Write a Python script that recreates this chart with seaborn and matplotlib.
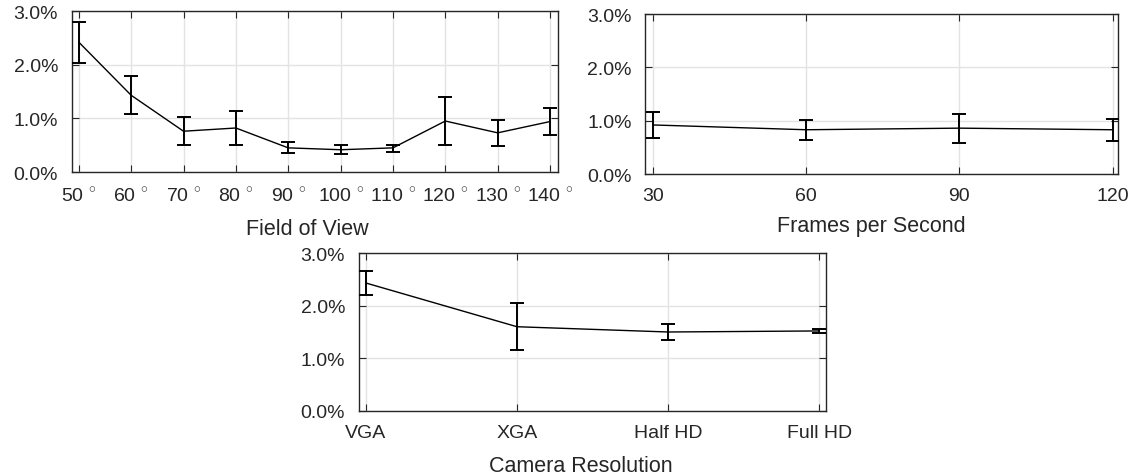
import numpy as np
import pandas as pd
import matplotlib
matplotlib.use("Agg")
import matplotlib.pyplot as plt
import seaborn as sns
from matplotlib.ticker import FuncFormatter

# ---------------- data ----------------
fov = [50, 60, 70, 80, 90, 100, 110, 120, 130, 140]
fov_mean = [2.42, 1.43, 0.76, 0.82, 0.45, 0.415, 0.45, 0.95, 0.73, 0.94]
fov_low = [2.03, 1.08, 0.50, 0.51, 0.35, 0.34, 0.37, 0.50, 0.48, 0.69]
fov_high = [2.79, 1.78, 1.02, 1.14, 0.55, 0.50, 0.51, 1.40, 0.97, 1.20]

fps = [30, 60, 90, 120]
fps_mean = [0.92, 0.83, 0.86, 0.83]
fps_low = [0.68, 0.63, 0.59, 0.62]
fps_high = [1.16, 1.02, 1.12, 1.04]

res = ["VGA", "XGA", "Half HD", "Full HD"]
res_mean = [2.43, 1.60, 1.50, 1.52]
res_low = [2.20, 1.15, 1.355, 1.475]
res_high = [2.65, 2.05, 1.645, 1.56]

yticks = [0.0, 1.0, 2.0, 3.0]

# ---------------- style ----------------
sns.set_theme(style="whitegrid")
plt.rcParams["font.family"] = ["Liberation Sans", "DejaVu Sans"]
plt.rcParams["mathtext.fontset"] = "custom"
plt.rcParams["mathtext.rm"] = "Liberation Sans"
TXT = "#262626"
GRID = "#e3e3e3"
TICK_FS = 14
LAB_FS = 15.5

fig = plt.figure(figsize=(11.3, 4.77), dpi=100)
ax1 = fig.add_axes([0.0637, 0.6373, 0.430, 0.3375])
ax2 = fig.add_axes([0.5712, 0.6331, 0.4181, 0.3354])
ax3 = fig.add_axes([0.3177, 0.1363, 0.4133, 0.3312])


def draw(ax, x, mean, low, high):
    df = pd.DataFrame({"x": x, "y": mean})
    sns.lineplot(data=df, x="x", y="y", ax=ax, color="black", lw=1.0)
    m = np.array(mean)
    yerr = [m - np.array(low), np.array(high) - m]
    ax.errorbar(x, mean, yerr=yerr, fmt="none", ecolor="black",
                elinewidth=1.4, capsize=4.8, capthick=1.4, zorder=3)
    ax.set_ylim(0, 3)
    ax.set_yticks(yticks)
    ax.yaxis.set_major_formatter(FuncFormatter(lambda v, p: f"{v:.1f}%"))
    ax.grid(True, color=GRID, lw=1.0)
    ax.set_facecolor("white")
    for s in ax.spines.values():
        s.set_color(TXT)
        s.set_linewidth(1.0)
        s.set_visible(True)
    ax.tick_params(direction="in", length=5, width=0.8, color=TXT,
                   top=True, right=True, bottom=True, left=True,
                   labelsize=TICK_FS, labelcolor=TXT)
    ax.tick_params(axis="y", pad=10)
    ax.set_ylabel("")


draw(ax1, fov, fov_mean, fov_low, fov_high)
ax1.set_xlim(48.7, 141.5)
ax1.set_xticks(fov)
ax1.set_xticklabels([f"{v} $^{{\\circ}}$" for v in fov])
ax1.tick_params(axis="x", pad=10)
ax1.set_xlabel("Field of View", fontsize=LAB_FS, color=TXT)
ax1.xaxis.set_label_coords(0.485, -0.285)

draw(ax2, fps, fps_mean, fps_low, fps_high)
ax2.set_xlim(28.57, 121.04)
ax2.set_xticks(fps)
ax2.set_xticklabels([str(v) for v in fps])
ax2.tick_params(axis="x", pad=9.5)
ax2.set_xlabel("Frames per Second", fontsize=LAB_FS, color=TXT)
ax2.xaxis.set_label_coords(0.479, -0.255)

pos = list(range(len(res)))
draw(ax3, pos, res_mean, res_low, res_high)
ax3.set_xlim(-0.046, 3.046)
ax3.set_xticks(pos)
ax3.set_xticklabels(res)
ax3.tick_params(axis="x", pad=9.5)
ax3.set_xlabel("Camera Resolution", fontsize=LAB_FS, color=TXT)
ax3.xaxis.set_label_coords(0.475, -0.28)

fig.savefig("out.png", dpi=100, facecolor="white")
